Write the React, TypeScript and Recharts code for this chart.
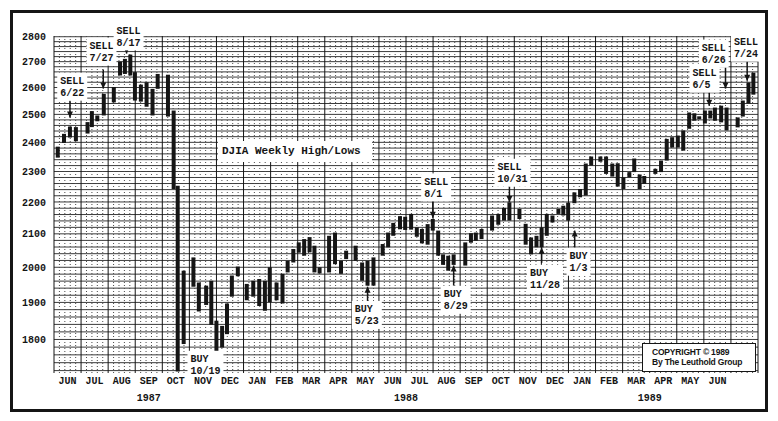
import React from 'react'
import {
  ComposedChart,
  Bar,
  XAxis,
  YAxis,
  CartesianGrid,
  ReferenceLine,
  ReferenceDot,
} from 'recharts'

// position of each weekly bar, in months counted from June 1, 1987
const weekPos = [
  0.14, 0.37, 0.59, 0.81,
  1.24, 1.4, 1.6, 1.84,
  2.21, 2.44, 2.62, 2.82,
  2.99, 3.21, 3.42, 3.64, 3.83,
  4.21, 4.42, 4.57, 4.79,
  5.15, 5.35, 5.62, 5.81,
  6.0, 6.21, 6.39, 6.57, 6.79,
  7.12, 7.36, 7.58, 7.79, 7.97,
  8.22, 8.44, 8.63, 8.84,
  9.04, 9.24, 9.44, 9.62, 9.81,
  10.16, 10.38, 10.6, 10.79,
  11.14, 11.38, 11.58, 11.8,
  12.14, 12.34, 12.53, 12.78, 12.97,
  13.19, 13.4, 13.59, 13.8, 13.99,
  14.19, 14.37, 14.56, 14.76,
  15.19, 15.4, 15.58, 15.79,
  16.18, 16.41, 16.62, 16.82,
  17.19, 17.42, 17.62, 17.82, 18.01,
  18.2, 18.41, 18.63, 18.81, 18.99,
  19.22, 19.43, 19.64, 19.84,
  20.18, 20.39, 20.62, 20.82,
  21.03, 21.25, 21.43, 21.63, 21.8,
  22.21, 22.42, 22.63, 22.83,
  23.04, 23.24, 23.46, 23.65, 23.83,
  24.04, 24.24, 24.41, 24.64, 24.84,
  25.25, 25.44, 25.65, 25.83,
]

const weekLow = [
  2347, 2398, 2417, 2404,
  2431, 2454, 2475, 2496,
  2544, 2646, 2652, 2646,
  2551, 2547, 2528, 2496, 2595,
  2492, 2242, 1718, 1788,
  1944, 1875, 1893, 1839,
  1762, 1779, 1814, 1916, 1974,
  1906, 1916, 1890, 1877, 1901,
  1906, 1897, 1985, 2014,
  2043, 2034, 2044, 1985, 1982,
  1985, 2009, 1981, 2024,
  2019, 1961, 1947, 1947,
  2034, 2059, 2094, 2114, 2112,
  2113, 2091, 2071, 2067, 2110,
  2034, 2007, 1990, 2007,
  2005, 2073, 2079, 2084,
  2110, 2128, 2141, 2141,
  2146, 2067, 2038, 2059, 2059,
  2094, 2135, 2162, 2157, 2141,
  2196, 2215, 2221, 2320,
  2333, 2292, 2283, 2250,
  2242, 2281, 2298, 2242, 2259,
  2292, 2298, 2337, 2382,
  2382, 2371, 2448, 2477, 2482,
  2467, 2485, 2477, 2471, 2442,
  2453, 2492, 2540, 2573,
]

const weekHigh = [
  2385, 2430, 2456, 2454,
  2472, 2512, 2496, 2576,
  2602, 2700, 2711, 2728,
  2659, 2611, 2620, 2595, 2652,
  2649, 2514, 2253, 1990,
  2029, 1956, 1947, 1961,
  1850, 1836, 1897, 1976, 2002,
  1952, 1961, 1966, 1961, 2000,
  1956, 1981, 2019, 2054,
  2074, 2084, 2090, 2064, 2000,
  2094, 2104, 2019, 2049,
  2064, 2014, 2019, 2029,
  2069, 2104, 2134, 2155, 2153,
  2162, 2120, 2115, 2130, 2146,
  2110, 2038, 2034, 2038,
  2074, 2102, 2104, 2115,
  2157, 2162, 2181, 2199,
  2178, 2131, 2089, 2094, 2120,
  2162, 2157, 2178, 2188, 2198,
  2231, 2242, 2327, 2351,
  2351, 2351, 2327, 2328,
  2280, 2298, 2344, 2290, 2285,
  2309, 2337, 2412, 2418,
  2424, 2442, 2507, 2504, 2493,
  2514, 2514, 2525, 2532, 2525,
  2489, 2551, 2619, 2657,
]

const monthLabels = [
  'JUN', 'JUL', 'AUG', 'SEP', 'OCT', 'NOV', 'DEC',
  'JAN', 'FEB', 'MAR', 'APR', 'MAY', 'JUN', 'JUL', 'AUG', 'SEP', 'OCT', 'NOV', 'DEC',
  'JAN', 'FEB', 'MAR', 'APR', 'MAY', 'JUN',
]
const yearLabels = ['1987', '1988', '1989']
const yearPos = [3.5, 13, 22]

const priceTicks = [1800, 1900, 2000, 2100, 2200, 2300, 2400, 2500, 2600, 2700, 2800]

// buy / sell signals: arrow at t from -> to, label top-left at (lt, lv)
const signals = [
  { kind: 'SELL', date: '6/22', t: 0.59, from: 2551, to: 2489, lt: 0.23, lv: 2626 },
  { kind: 'SELL', date: '7/27', t: 1.82, from: 2669, to: 2596, lt: 1.31, lv: 2764 },
  { kind: 'SELL', date: '8/17', t: 2.68, from: 2768, to: 2732, lt: 2.31, lv: 2826 },
  { kind: 'BUY', date: '10/19', t: null, from: null, to: null, lt: 5.04, lv: 1750 },
  { kind: 'BUY', date: '5/23', t: 11.58, from: 1899, to: 1944, lt: 11.11, lv: 1882 },
  { kind: 'SELL', date: '8/1', t: 13.99, from: 2207, to: 2150, lt: 13.67, lv: 2267 },
  { kind: 'BUY', date: '8/29', t: 14.76, from: 1947, to: 2005, lt: 14.39, lv: 1924 },
  { kind: 'SELL', date: '10/31', t: 16.82, from: 2257, to: 2200, lt: 16.38, lv: 2316 },
  { kind: 'BUY', date: '11/28', t: 18.01, from: 2013, to: 2058, lt: 17.58, lv: 1984 },
  { kind: 'BUY', date: '1/3', t: 19.23, from: 2058, to: 2110, lt: 19.04, lv: 2034 },
  { kind: 'SELL', date: '6/5', t: 24.2, from: 2592, to: 2532, lt: 23.58, lv: 2657 },
  { kind: 'SELL', date: '6/26', t: 24.8, from: 2677, to: 2596, lt: 23.92, lv: 2756 },
  { kind: 'SELL', date: '7/24', t: 25.6, from: 2708, to: 2626, lt: 25.11, lv: 2780 },
]

const mono = '"Liberation Mono", "DejaVu Sans Mono", monospace'
const ink = '#151515'

const weeks = weekPos.map((t, i) => ({ t, range: [weekLow[i], weekHigh[i]] }))

const gridPrices: number[] = []
for (let p = 1720; p <= 2800; p += 20) gridPrices.push(p)
const monthLines: number[] = []
for (let m = 0; m <= 26; m++) monthLines.push(m)
const weekLines: number[] = []
for (let m = 0; m < 26; m++) for (let k = 1; k < 5; k++) weekLines.push(m + k * 0.2)
const monthTicks = monthLabels.map((_, i) => i + 0.5)

function Arrowhead(props: any) {
  const { cx, cy, up } = props
  const d = up
    ? `M${cx - 3},${cy + 6} L${cx},${cy} L${cx + 3},${cy + 6} Z`
    : `M${cx - 3},${cy - 6} L${cx},${cy} L${cx + 3},${cy - 6} Z`
  return <path d={d} fill={ink} />
}

function SignalLabel(props: any) {
  const { cx, cy, lines } = props
  const w = Math.max(...lines.map((l: string) => l.length)) * 6
  return (
    <g>
      <rect x={cx - 3} y={cy - 8} width={w + 6} height={lines.length * 12 + 4} fill="#fff" />
      {lines.map((l: string, i: number) => (
        <text
          key={i}
          x={cx}
          y={cy + i * 12 + 3.5}
          fontFamily={mono}
          fontWeight="bold"
          fontSize={10}
          fill={ink}
        >
          {l}
        </text>
      ))}
    </g>
  )
}

const tickStyle = { fontFamily: mono, fontWeight: 'bold', fontSize: 10, fill: ink }

export default function App() {
  return (
    <div style={{ position: 'relative', width: 778, height: 421, background: '#fff' }}>
      <style>{'body{margin:0}'}</style>
      <ComposedChart
        width={778}
        height={421}
        data={weeks}
        margin={{ top: 36, right: 20, bottom: 0, left: 0 }}
      >
        <CartesianGrid
          vertical={false}
          horizontalValues={gridPrices}
          stroke="#262626"
          strokeWidth={0.9}
        />
        <CartesianGrid
          horizontal={false}
          verticalValues={weekLines}
          stroke="#4a4a4a"
          strokeDasharray="1 2"
        />
        <CartesianGrid horizontal={false} verticalValues={monthLines} stroke={ink} strokeWidth={1} />
        <XAxis
          dataKey="t"
          type="number"
          domain={[0, 26]}
          ticks={monthTicks}
          interval={0}
          tickFormatter={(v: number) => monthLabels[Math.floor(v)]}
          height={17}
          tickLine={false}
          axisLine={false}
          tickSize={4}
          tickMargin={0}
          tick={tickStyle}
          allowDataOverflow
        />
        <XAxis
          xAxisId="year"
          dataKey="t"
          type="number"
          domain={[0, 26]}
          ticks={yearPos}
          interval={0}
          tickFormatter={(v: number) => yearLabels[yearPos.indexOf(v)]}
          height={31}
          tickLine={false}
          axisLine={false}
          tickSize={4}
          tickMargin={0}
          tick={tickStyle}
          allowDataOverflow
        />
        <YAxis
          type="number"
          scale="log"
          domain={[1714, 2803]}
          ticks={priceTicks}
          interval={0}
          allowDataOverflow
          width={54}
          tickLine={false}
          axisLine={false}
          tickMargin={2}
          tick={tickStyle}
        />
        <Bar dataKey="range" fill={ink} barSize={4} isAnimationActive={false} />
        {signals
          .filter((s) => s.t !== null)
          .map((s) => (
            <ReferenceLine
              key={`shaft-${s.date}`}
              segment={[
                { x: s.t as number, y: s.from as number },
                { x: s.t as number, y: s.to as number },
              ]}
              stroke={ink}
              strokeWidth={1.5}
              ifOverflow="visible"
            />
          ))}
        {signals
          .filter((s) => s.t !== null)
          .map((s) => (
            <ReferenceDot
              key={`head-${s.date}`}
              x={s.t as number}
              y={s.to as number}
              ifOverflow="visible"
              shape={(p: any) => (
                <Arrowhead cx={p.cx} cy={p.cy} up={(s.to as number) > (s.from as number)} />
              )}
            />
          ))}
        {signals.map((s) => (
          <ReferenceDot
            key={`label-${s.date}`}
            x={s.lt}
            y={s.lv}
            ifOverflow="visible"
            shape={(p: any) => <SignalLabel cx={p.cx} cy={p.cy} lines={[s.kind, s.date]} />}
          />
        ))}
      </ComposedChart>
      <div
        style={{
          position: 'absolute',
          left: 218,
          top: 141,
          width: 154,
          height: 21,
          background: '#fff',
          fontFamily: mono,
          fontWeight: 'bold',
          fontSize: 11,
          lineHeight: '21px',
          color: ink,
          paddingLeft: 4,
          boxSizing: 'border-box',
        }}
      >
        DJIA Weekly High/Lows
      </div>
      <div
        style={{
          position: 'absolute',
          left: 642,
          top: 343,
          width: 114,
          height: 29,
          background: '#fff',
          border: `1px solid ${ink}`,
          boxSizing: 'border-box',
          fontFamily: '"Liberation Sans", Arial, sans-serif',
          fontWeight: 'bold',
          fontSize: 8.5,
          lineHeight: '10px',
          color: ink,
          padding: '3px 0 0 9px',
          letterSpacing: -0.2,
        }}
      >
        <div>COPYRIGHT © 1989</div>
        <div>By The Leuthold Group</div>
      </div>
      <div
        style={{
          position: 'absolute',
          left: 10,
          top: 10,
          width: 758,
          height: 402,
          border: `3px solid ${ink}`,
          boxSizing: 'border-box',
          pointerEvents: 'none',
        }}
      />
    </div>
  )
}
